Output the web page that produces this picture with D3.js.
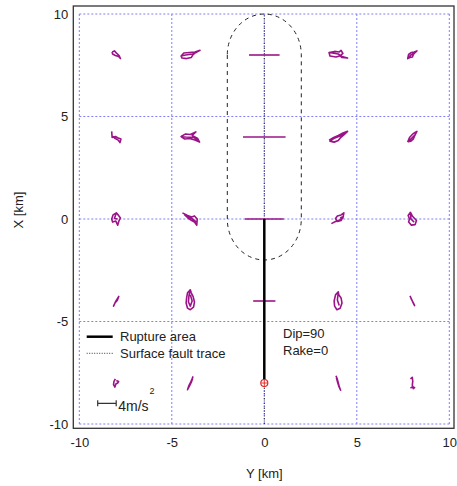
<!DOCTYPE html>
<html lang="en">
<head>
<meta charset="UTF-8">
<title>Particle motion around a strike-slip fault</title>
<script src="https://d3js.org/d3.v7.min.js"></script>
<style>
  body { margin: 0; background: #fff; font-family: "Liberation Sans", Arial, sans-serif; }
  text { fill: #222; }
</style>
</head>
<body>
<div id="chart"></div>
<script>
// axis ticks (km)
const ticksY = [-10, -5, 0, 5, 10];
const ticksX = [-10, -5, 0, 5, 10];

// fault geometry in (Y, X) km
const faultTrace = [[0, -10], [0, 10]];
const rupture = [[0, 0], [0, -8]];
const hypocenter = [0, -8];
const zoneAxis = [[0, 0], [0, 8]];   // centre line of dashed zone
const zoneRadius = 2;

// acceleration scale: 4 m/s^2 drawn as 1 km
const accelKm = 0.25;
const scaleBarAccel = 4;

// particle-motion traces: station (Y, X) in km, points [aY, aX] in m/s^2
const traces = [
  {sy: -8, sx: 8, pts: [[-0.9,0.6],[-0.4,0.8],[0.1,0.3],[0.6,-0.1],[0.9,-0.7],[0.5,-0.3],[-0.2,-0.1],[-0.8,0.2],[-0.9,0.6]]},
  {sy: -4, sx: 8, pts: [[-2.0,-0.2],[-1.4,0.4],[-0.2,0.5],[1.0,0.6],[2.1,0.9],[1.2,0.5],[0.6,0.1],[0.2,-0.5],[-0.8,-0.7],[-1.8,-0.6],[-2.0,-0.2],[-1.0,0.0],[0.5,0.2],[1.5,0.6]]},
  {sy: 0, sx: 8, pts: [[-3.3,0],[3.3,0]]},
  {sy: 4, sx: 8, pts: [[-2.0,0.5],[-0.8,0.7],[0.2,0.6],[0.6,0.9],[1.0,0.3],[0.3,-0.2],[-0.5,-0.4],[-1.8,-0.2],[-2.0,0.5],[0.0,0.2],[0.8,-0.3],[2.0,-0.6],[0.8,-0.5],[0.2,0.0]]},
  {sy: 8, sx: 8, pts: [[-1.0,-0.7],[-0.8,0.1],[-0.2,0.5],[0.4,0.6],[1.0,0.8],[0.3,0.2],[0.0,-0.4],[-0.5,-0.5],[-1.0,-0.7],[-0.3,0.0],[0.5,0.4]]},

  {sy: -8, sx: 4, pts: [[-1.0,1.1],[-0.9,-0.1],[-0.2,0.1],[0.4,-0.2],[1.0,-0.4],[0.8,-1.1],[0.4,-0.6],[-0.4,-0.2],[-0.9,0.2]]},
  {sy: -4, sx: 4, pts: [[-2.0,0.1],[-1.0,0.6],[0.0,0.5],[1.2,1.0],[0.4,0.3],[1.6,-0.3],[2.0,-1.0],[1.0,-0.6],[-0.2,-0.3],[-1.2,-0.4],[-2.0,0.1],[-1.0,0.0],[0.8,-0.1],[1.8,-0.7]]},
  {sy: 0, sx: 4, pts: [[-4.6,0],[4.6,0]]},
  {sy: 4, sx: 4, pts: [[-2.0,-0.6],[-1.0,-0.1],[0.0,0.3],[1.0,0.8],[2.0,1.1],[1.2,0.4],[0.5,-0.1],[0.0,-0.7],[-0.9,-1.0],[-1.8,-0.8],[-1.0,-0.3],[0.6,0.3],[1.5,0.9]]},
  {sy: 8, sx: 4, pts: [[-1.0,-1.0],[-0.6,-0.1],[0.0,0.5],[0.6,0.9],[1.0,1.1],[0.5,0.2],[0.2,-0.4],[-0.3,-0.8],[-0.9,-0.9],[-0.1,-0.2],[0.6,0.4]]},

  {sy: -8, sx: 0, pts: [[0.0,1.2],[-0.7,0.8],[-1.0,0.0],[-0.8,-0.6],[-0.1,-0.4],[0.3,-1.2],[0.6,-0.3],[0.9,0.2],[0.4,0.8],[0.0,1.2],[-0.4,0.1],[0.3,0.0]]},
  {sy: -4, sx: 0, pts: [[-1.7,1.2],[-0.6,0.7],[0.3,0.4],[0.9,0.6],[1.5,0.0],[1.4,-1.2],[0.9,-0.6],[0.3,-0.3],[-0.5,0.2],[-1.2,0.8],[0.5,0.0],[1.2,-0.5],[0.7,-0.2]]},
  {sy: 0, sx: 0, pts: [[-4.2,0],[4.2,0]]},
  {sy: 4, sx: 0, pts: [[-1.5,-0.9],[-0.6,-0.5],[0.3,-0.2],[1.0,0.2],[1.2,1.2],[0.6,0.8],[-0.2,0.6],[-0.6,0.1],[-0.2,-0.5],[0.6,-0.3],[1.1,0.5],[0.4,0.2]]},
  {sy: 8, sx: 0, pts: [[-0.4,1.3],[-0.9,0.7],[-0.6,0.0],[-0.8,-0.6],[-0.2,-1.2],[0.6,-1.1],[0.9,-0.3],[0.4,0.2],[0.0,0.6],[-0.4,1.3],[-0.3,0.0],[0.4,-0.6]]},

  {sy: -8, sx: -4, pts: [[0.6,1.0],[0.2,0.4],[-0.2,-0.2],[-0.6,-1.0],[-0.3,-0.4],[0.2,0.1],[0.5,0.8]]},
  {sy: -4, sx: -4, pts: [[0.0,2.2],[-0.6,1.6],[-0.8,0.6],[-0.9,-0.4],[-0.6,-1.4],[0.0,-1.7],[0.7,-1.2],[0.9,-0.2],[0.6,0.9],[0.2,1.6],[0.0,2.2],[-0.3,1.0],[-0.4,-0.2],[0.0,-1.0],[0.4,0.0],[0.0,1.2]]},
  {sy: 0, sx: -4, pts: [[-2.4,0],[2.4,0]]},
  {sy: 4, sx: -4, pts: [[0.0,1.8],[-0.6,1.2],[-0.9,0.0],[-0.8,-1.0],[-0.3,-1.7],[0.4,-1.4],[0.8,-0.4],[0.6,0.6],[0.1,1.2],[0.0,1.8],[-0.2,0.2],[0.2,-0.9]]},
  {sy: 8, sx: -4, pts: [[-0.5,1.0],[-0.2,0.4],[0.1,-0.2],[0.5,-0.9],[0.2,-0.3],[-0.3,0.5]]},

  {sy: -8, sx: -8, pts: [[-0.2,0.8],[-0.5,0.3],[-0.6,-0.3],[-0.3,-0.8],[-0.1,-0.2],[0.3,0.0],[0.5,0.3],[0.0,0.5]]},
  {sy: -4, sx: -8, pts: [[0.6,1.3],[0.3,0.6],[0.0,0.0],[-0.3,-0.5],[-0.6,-1.3],[-0.2,-0.6],[0.2,0.1],[0.5,0.9]]},
  {sy: 4, sx: -8, pts: [[-0.5,1.4],[-0.2,0.7],[0.0,0.0],[0.2,-0.7],[0.5,-1.4],[0.1,-0.6],[-0.2,0.3],[-0.4,1.0]]},
  {sy: 8, sx: -8, pts: [[-0.4,0.8],[0.0,1.1],[0.1,0.3],[0.0,-0.4],[0.2,-1.1],[0.5,-0.9],[0.1,-0.7],[-0.4,-1.0]]}
];

const W = 457, H = 486;
const frame = {left: 73.3, top: 6, right: 454, bottom: 428.3};

const svg = d3.select("#chart").append("svg")
  .attr("width", W)
  .attr("height", H);

// Y (east) on the horizontal axis, X (north) on the vertical axis
const x = d3.scaleLinear().domain([-10, 10]).range([79.3, 449.3]);
const y = d3.scaleLinear().domain([-10, 10]).range([424, 14]);

// grid
const grid = svg.append("g").attr("stroke", "#7f7fff").attr("stroke-dasharray", "2,2");
grid.selectAll("line.v").data(ticksY).join("line")
  .attr("class", "v")
  .attr("x1", d => x(d)).attr("x2", d => x(d))
  .attr("y1", y(-10)).attr("y2", y(10));
grid.selectAll("line.h").data(ticksX).join("line")
  .attr("class", "h")
  .attr("x1", x(-10)).attr("x2", x(10))
  .attr("y1", d => y(d)).attr("y2", d => y(d));

// tick labels (plain hyphen for negatives, as in the original)
svg.append("g")
  .attr("transform", `translate(0,${frame.bottom})`)
  .call(d3.axisBottom(x).tickValues(ticksY).tickSize(0).tickPadding(9).tickFormat(d => String(d)))
  .call(g => g.select(".domain").remove())
  .selectAll("text")
  .style("font-size", "13px")
  .style("font-family", "Liberation Sans, Arial, sans-serif");

svg.append("g")
  .attr("transform", `translate(${frame.left},0)`)
  .call(d3.axisLeft(y).tickValues(ticksX).tickSize(0).tickPadding(5).tickFormat(d => String(d)))
  .call(g => g.select(".domain").remove())
  .selectAll("text")
  .style("font-size", "13px")
  .style("font-family", "Liberation Sans, Arial, sans-serif");

// axis titles
svg.append("text")
  .attr("x", x(0))
  .attr("y", 478)
  .attr("text-anchor", "middle")
  .style("font-size", "13px")
  .text("Y [km]");

svg.append("text")
  .attr("transform", "rotate(-90)")
  .attr("x", -210)
  .attr("y", 23)
  .attr("text-anchor", "middle")
  .style("font-size", "13px")
  .text("X [km]");

// surface fault trace
svg.append("line")
  .attr("x1", x(faultTrace[0][0])).attr("y1", y(faultTrace[0][1]))
  .attr("x2", x(faultTrace[1][0])).attr("y2", y(faultTrace[1][1]))
  .attr("stroke", "#223")
  .attr("stroke-width", 1)
  .attr("stroke-dasharray", "1,1.5");

// dashed zone around the upper part of the fault
const rx = x(zoneRadius) - x(0), ry = y(0) - y(zoneRadius);
const zx0 = zoneAxis[0][0], zLo = zoneAxis[0][1], zHi = zoneAxis[1][1];
svg.append("path")
  .attr("d",
    `M${x(zx0 - zoneRadius)},${y(zHi)} L${x(zx0 - zoneRadius)},${y(zLo)} ` +
    `A${rx},${ry} 0 0 0 ${x(zx0 + zoneRadius)},${y(zLo)} ` +
    `L${x(zx0 + zoneRadius)},${y(zHi)} ` +
    `A${rx},${ry} 0 0 0 ${x(zx0 - zoneRadius)},${y(zHi)}`)
  .attr("fill", "none")
  .attr("stroke", "#222")
  .attr("stroke-width", 1)
  .attr("stroke-dasharray", "4,4");

// particle-motion traces
const traceLine = d3.line();
svg.append("g")
  .selectAll("path")
  .data(traces)
  .join("path")
  .attr("d", t => traceLine(t.pts.map(p => [x(t.sy + p[0] * accelKm), y(t.sx + p[1] * accelKm)])))
  .attr("fill", "none")
  .attr("stroke", "#9a1488")
  .attr("stroke-width", 1.6)
  .attr("stroke-linejoin", "round");

// rupture area
svg.append("line")
  .attr("x1", x(rupture[0][0])).attr("y1", y(rupture[0][1]))
  .attr("x2", x(rupture[1][0])).attr("y2", y(rupture[1][1]))
  .attr("stroke", "#000")
  .attr("stroke-width", 2.5);

// hypocenter
const hx = x(hypocenter[0]), hy = y(hypocenter[1]);
svg.append("circle")
  .attr("cx", hx).attr("cy", hy).attr("r", 3.5)
  .attr("fill", "#fff").attr("stroke", "#e02020").attr("stroke-width", 1.2);
svg.append("path")
  .attr("d", `M${hx - 3},${hy} H${hx + 3} M${hx},${hy - 3} V${hy + 3}`)
  .attr("stroke", "#e02020").attr("stroke-width", 0.9);

// frame
svg.append("rect")
  .attr("x", frame.left).attr("y", frame.top)
  .attr("width", frame.right - frame.left)
  .attr("height", frame.bottom - frame.top)
  .attr("fill", "none")
  .attr("stroke", "#333")
  .attr("stroke-width", 1.3);

// legend
const legend = [
  {label: "Rupture area", width: 2.5, dash: null, color: "#000", ly: 336.7},
  {label: "Surface fault trace", width: 1, dash: "1,1.5", color: "#334", ly: 353.3}
];
svg.append("g").selectAll("line").data(legend).join("line")
  .attr("x1", 86.7).attr("x2", 112.7)
  .attr("y1", d => d.ly).attr("y2", d => d.ly)
  .attr("stroke", d => d.color)
  .attr("stroke-width", d => d.width)
  .attr("stroke-dasharray", d => d.dash);
svg.append("g").selectAll("text").data(legend).join("text")
  .attr("x", 120)
  .attr("y", d => d.ly + 4.5)
  .style("font-size", "13px")
  .text(d => d.label);

// fault parameters
svg.append("text").attr("x", 283).attr("y", 338).style("font-size", "13px").text("Dip=90");
svg.append("text").attr("x", 283).attr("y", 355).style("font-size", "13px").text("Rake=0");

// acceleration scale bar
const sbx0 = 97.7, sbY = 403.3;
const sbx1 = sbx0 + (x(scaleBarAccel * accelKm) - x(0));
svg.append("path")
  .attr("d", `M${sbx0},${sbY - 3} V${sbY + 3} M${sbx0},${sbY} H${sbx1} M${sbx1},${sbY - 3} V${sbY + 3}`)
  .attr("stroke", "#333")
  .attr("stroke-width", 1.2)
  .attr("fill", "none");
const sbText = svg.append("text")
  .attr("x", sbx1 + 2)
  .attr("y", 410.5)
  .style("font-size", "14px");
sbText.append("tspan").text(`${scaleBarAccel}m/s`);
sbText.append("tspan").attr("dy", -17).attr("dx", 1).style("font-size", "9px").text("2");
</script>
</body>
</html>
